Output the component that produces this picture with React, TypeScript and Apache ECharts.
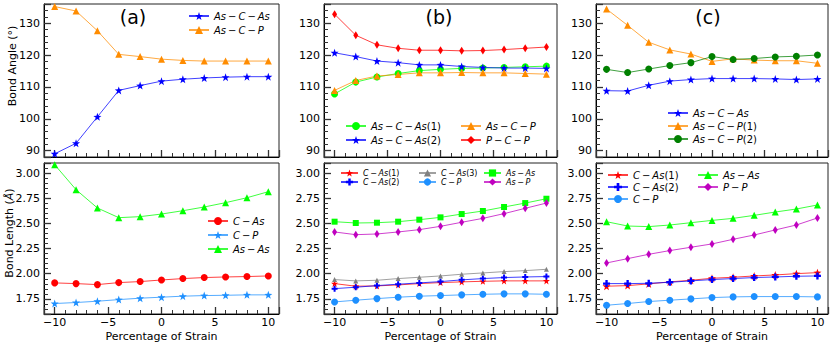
import React, { useEffect, useRef } from "react";
import * as echarts from "echarts";

const STRAIN = [-10, -8, -6, -4, -2, 0, 2, 4, 6, 8, 10];

// Panel (a) – bond angles
const A_ASCAS = [89.0, 92.3, 100.6, 108.9, 110.4, 111.8, 112.4, 112.8, 113.05, 113.2, 113.2];
const A_ASCP = [135.2, 133.8, 127.6, 120.2, 119.5, 118.7, 118.3, 118.1, 118.1, 118.1, 118.1];
// Panel (a) – bond lengths
const A_CAS = [1.909, 1.902, 1.892, 1.912, 1.922, 1.938, 1.952, 1.962, 1.968, 1.972, 1.978];
const A_CP = [1.704, 1.714, 1.727, 1.743, 1.757, 1.767, 1.777, 1.783, 1.786, 1.79, 1.79];
const A_ASAS = [3.083, 2.835, 2.653, 2.557, 2.567, 2.593, 2.626, 2.663, 2.706, 2.755, 2.815];

// Panel (b) – bond angles
const B_ASCAS1 = [107.8, 111.5, 113.1, 114.2, 115.1, 115.5, 115.8, 115.9, 116.1, 116.3, 116.5];
const B_ASCAS2 = [120.7, 119.5, 118.1, 117.6, 116.9, 116.9, 116.4, 116.1, 115.9, 115.9, 115.8];
const B_ASCP = [108.9, 112.0, 113.4, 113.9, 114.4, 114.4, 114.5, 114.4, 114.4, 114.2, 114.0];
const B_PCP = [132.8, 126.2, 123.2, 122.1, 121.5, 121.5, 121.3, 121.4, 121.7, 122.1, 122.5];
// Panel (b) – bond lengths
const B_CAS1 = [1.902, 1.876, 1.879, 1.889, 1.902, 1.912, 1.919, 1.925, 1.929, 1.929, 1.929];
const B_CAS2 = [1.852, 1.866, 1.882, 1.896, 1.909, 1.922, 1.939, 1.952, 1.962, 1.968, 1.972];
const B_CAS3 = [1.942, 1.929, 1.935, 1.952, 1.965, 1.978, 1.995, 2.008, 2.021, 2.031, 2.044];
const B_CP = [1.72, 1.737, 1.753, 1.767, 1.777, 1.783, 1.79, 1.796, 1.8, 1.8, 1.796];
const B_ASAS = [2.517, 2.504, 2.507, 2.517, 2.537, 2.56, 2.593, 2.623, 2.663, 2.702, 2.745];
const B_ASP = [2.415, 2.388, 2.395, 2.415, 2.438, 2.471, 2.511, 2.55, 2.597, 2.65, 2.702];

// Panel (c) – bond angles
const C_ASCAS = [108.8, 108.7, 110.5, 111.8, 112.3, 112.6, 112.6, 112.6, 112.5, 112.3, 112.5];
const C_ASCP1 = [134.4, 129.3, 124.0, 121.6, 120.3, 118.0, 118.8, 118.4, 118.2, 118.2, 117.4];
const C_ASCP2 = [115.5, 114.5, 115.6, 116.7, 117.6, 119.5, 118.6, 118.9, 119.4, 119.6, 120.0];
// Panel (c) – bond lengths
const C_CAS1 = [1.876, 1.882, 1.899, 1.919, 1.935, 1.955, 1.965, 1.978, 1.988, 2.001, 2.011];
const C_CAS2 = [1.902, 1.902, 1.905, 1.915, 1.929, 1.942, 1.952, 1.962, 1.968, 1.975, 1.978];
const C_CP = [1.687, 1.704, 1.724, 1.737, 1.75, 1.763, 1.77, 1.773, 1.773, 1.773, 1.77];
const C_ASAS = [2.517, 2.474, 2.468, 2.484, 2.507, 2.53, 2.55, 2.58, 2.613, 2.643, 2.683];
const C_PP = [2.107, 2.15, 2.193, 2.23, 2.263, 2.296, 2.342, 2.385, 2.435, 2.484, 2.554];

const PANEL_LABELS = ["(a)", "(b)", "(c)"];
const X_NAME = "Percentage of Strain";

const FONT = "DejaVu Sans";
const STAR = "path://M0,-10L2.35,-3.24L9.51,-3.09L3.8,1.24L5.88,8.09L0,4L-5.88,8.09L-3.8,1.24L-9.51,-3.09L-2.35,-3.24Z";
const PLUS = "path://M-1,-3L1,-3L1,-1L3,-1L3,1L1,1L1,3L-1,3L-1,1L-3,1L-3,-1L-1,-1Z";

const T = "\u2009\u2212\u2009";

type S = {
  id: string;
  label: string;
  grid: number;
  data: number[];
  color: string;
  symbol: string;
  size: number | number[];
};

const SERIES: S[] = [
  { id: "a1", label: `{i|As${T}C${T}As}`, grid: 0, data: A_ASCAS, color: "#0000ff", symbol: STAR, size: 8 },
  { id: "a2", label: `{i|As${T}C${T}P}`, grid: 0, data: A_ASCP, color: "#ff8c00", symbol: "triangle", size: 7 },
  { id: "a3", label: `{i|C${T}As}`, grid: 1, data: A_CAS, color: "#ff0000", symbol: "circle", size: 7 },
  { id: "a4", label: `{i|C${T}P}`, grid: 1, data: A_CP, color: "#1e90ff", symbol: STAR, size: 8 },
  { id: "a5", label: `{i|As${T}As}`, grid: 1, data: A_ASAS, color: "#00ff00", symbol: "triangle", size: 7 },

  { id: "b1", label: `{i|As${T}C${T}As}{n|(1)}`, grid: 2, data: B_ASCAS1, color: "#00ff00", symbol: "circle", size: 7 },
  { id: "b2", label: `{i|As${T}C${T}As}{n|(2)}`, grid: 2, data: B_ASCAS2, color: "#0000ff", symbol: STAR, size: 8 },
  { id: "b3", label: `{i|As${T}C${T}P}`, grid: 2, data: B_ASCP, color: "#ff8c00", symbol: "triangle", size: 7 },
  { id: "b4", label: `{i|P${T}C${T}P}`, grid: 2, data: B_PCP, color: "#ff0000", symbol: "diamond", size: [5, 8] },
  { id: "b5", label: `{s|C${T}As}{m|(1)}`, grid: 3, data: B_CAS1, color: "#ff0000", symbol: STAR, size: 7 },
  { id: "b6", label: `{s|C${T}As}{m|(2)}`, grid: 3, data: B_CAS2, color: "#0000ff", symbol: PLUS, size: 6 },
  { id: "b7", label: `{s|C${T}As}{m|(3)}`, grid: 3, data: B_CAS3, color: "#808080", symbol: "triangle", size: 5 },
  { id: "b8", label: `{s|C${T}P}`, grid: 3, data: B_CP, color: "#1e90ff", symbol: "circle", size: 7 },
  { id: "b9", label: `{s|As${T}As}`, grid: 3, data: B_ASAS, color: "#00ff00", symbol: "rect", size: 6 },
  { id: "b10", label: `{s|As${T}P}`, grid: 3, data: B_ASP, color: "#bf00bf", symbol: "diamond", size: [5, 8] },

  { id: "c1", label: `{i|As${T}C${T}As}`, grid: 4, data: C_ASCAS, color: "#0000ff", symbol: STAR, size: 8 },
  { id: "c2", label: `{i|As${T}C${T}P}{n|(1)}`, grid: 4, data: C_ASCP1, color: "#ff8c00", symbol: "triangle", size: 7 },
  { id: "c3", label: `{i|As${T}C${T}P}{n|(2)}`, grid: 4, data: C_ASCP2, color: "#008000", symbol: "circle", size: 7 },
  { id: "c4", label: `{i|C${T}As}{n|(1)}`, grid: 5, data: C_CAS1, color: "#ff0000", symbol: STAR, size: 8 },
  { id: "c5", label: `{i|C${T}As}{n|(2)}`, grid: 5, data: C_CAS2, color: "#0000ff", symbol: PLUS, size: 7 },
  { id: "c6", label: `{i|C${T}P}`, grid: 5, data: C_CP, color: "#1e90ff", symbol: "circle", size: 7 },
  { id: "c7", label: `{i|As${T}As}`, grid: 5, data: C_ASAS, color: "#00ff00", symbol: "triangle", size: 7 },
  { id: "c8", label: `{i|P${T}P}`, grid: 5, data: C_PP, color: "#bf00bf", symbol: "diamond", size: [5, 8] },
];

const LABEL_MAP: Record<string, string> = {};
SERIES.forEach((s) => (LABEL_MAP[s.id] = s.label));

const GRIDS = [
  { left: 44, top: 4, width: 235, height: 153 },
  { left: 44, top: 163, width: 235, height: 151 },
  { left: 324, top: 4, width: 233, height: 153 },
  { left: 324, top: 163, width: 233, height: 151 },
  { left: 596, top: 4, width: 232, height: 153 },
  { left: 596, top: 163, width: 232, height: 151 },
];
const PANEL_LABEL_X = [133, 439, 708];

const rich = (fs: number) => ({
  i: { fontStyle: "italic", fontFamily: FONT, fontSize: fs, color: "#000" },
  n: { fontStyle: "normal", fontFamily: FONT, fontSize: fs, color: "#000" },
  s: { fontStyle: "italic", fontFamily: FONT, fontSize: fs - 1, color: "#000" },
  m: { fontStyle: "normal", fontFamily: FONT, fontSize: fs - 1, color: "#000" },
});

function legend(data: string[], left: number, top: number, gap: number, fs: number, w = 20, h = 10) {
  return {
    data,
    left,
    top,
    orient: "vertical",
    itemGap: gap,
    itemWidth: w,
    itemHeight: h,
    padding: 0,
    selectedMode: false,
    formatter: (name: string) => LABEL_MAP[name],
    textStyle: { fontFamily: FONT, fontSize: fs, rich: rich(fs), padding: [0, 0, 0, 0] },
  };
}

export default function App() {
  const ref = useRef<HTMLDivElement>(null);
  useEffect(() => {
    document.body.style.margin = "0";
    const chart = echarts.init(ref.current!, null, { renderer: "svg" });
    const tickStyle = { color: "#333", width: 1.3 };
    const xAxes = GRIDS.map((_, gi) => ({
      type: "value",
      gridIndex: gi,
      min: -11,
      max: 11,
      minInterval: 5,
      maxInterval: 5,
      axisLine: { show: true, onZero: false, lineStyle: { color: "#000", width: 1 } },
      axisTick: { show: true, inside: true, length: 7, lineStyle: tickStyle },
      minorTick: { show: true, splitNumber: 5, length: 4, lineStyle: { color: "#333", width: 1 } },
      splitLine: { show: false },
      axisLabel: {
        show: gi % 2 === 1,
        showMinLabel: false,
        showMaxLabel: false,
        fontFamily: FONT,
        fontSize: 11,
        color: "#000",
        margin: 3,
        formatter: (v: number) => (v < 0 ? "\u2212" + Math.abs(v) : String(v)),
      },
    }));
    const yAxes = GRIDS.map((_, gi) => {
      const top = gi % 2 === 0;
      return {
        type: "value",
        gridIndex: gi,
        min: top ? 88 : 1.6,
        max: top ? 136 : 3.1,
        minInterval: top ? 10 : 0.25,
        maxInterval: top ? 10 : 0.25,
        axisLine: { show: true, onZero: false, lineStyle: { color: "#000", width: 1 } },
        axisTick: { show: true, inside: true, length: 7, lineStyle: tickStyle },
        minorTick: { show: true, splitNumber: 5, length: 4, lineStyle: { color: "#333", width: 1 } },
        splitLine: { show: false },
        axisLabel: {
          showMinLabel: false,
          showMaxLabel: false,
          fontFamily: FONT,
          fontSize: 11,
          color: "#000",
          margin: 4,
          formatter: (v: number) => (top ? String(v) : v.toFixed(2)),
        },
      };
    });
    const series = SERIES.map((s) => ({
      type: "line",
      name: s.id,
      xAxisIndex: s.grid,
      yAxisIndex: s.grid,
      data: STRAIN.map((x, i) => [x, s.data[i]]),
      symbol: s.symbol,
      symbolSize: s.size,
      showSymbol: true,
      itemStyle: { color: s.color, opacity: 1 },
      lineStyle: { color: s.color, width: 1, opacity: 0.75 },
      emphasis: { disabled: true },
    }));

    const graphics: any[] = [];
    PANEL_LABELS.forEach((t, k) => {
      graphics.push({
        type: "text",
        x: PANEL_LABEL_X[k],
        y: 17,
        style: { text: t, font: `19px '${FONT}'`, fill: "#000", align: "center", verticalAlign: "middle" },
      });
      const gb = GRIDS[k * 2 + 1];
      graphics.push({
        type: "text",
        x: gb.left + gb.width / 2,
        y: 336,
        style: { text: X_NAME, font: `11px '${FONT}'`, fill: "#000", align: "center", verticalAlign: "middle" },
      });
    });
    graphics.push({
      type: "text",
      x: 12,
      y: 66,
      rotation: Math.PI / 2,
      style: { text: "Bond Angle (\u00b0)", font: `11px '${FONT}'`, fill: "#000", align: "center", verticalAlign: "middle" },
    });
    graphics.push({
      type: "text",
      x: 9,
      y: 233,
      rotation: Math.PI / 2,
      style: {
        text: "Bond Length ({i|\u00c5})",
        font: `11px '${FONT}'`,
        fill: "#000",
        align: "center",
        verticalAlign: "middle",
        rich: { i: { fontStyle: "italic", fontFamily: FONT, fontSize: 11, fill: "#000" } },
      },
    });

    chart.setOption({
      animation: false,
      backgroundColor: "#fff",
      grid: GRIDS.map((g) => ({ ...g, show: true, borderColor: "#222", borderWidth: 1, backgroundColor: "transparent", containLabel: false })),
      xAxis: xAxes,
      yAxis: yAxes,
      legend: [
        legend(["a1", "a2"], 188, 11, 4, 10),
        legend(["a3", "a4", "a5"], 207, 216, 4, 10),
        legend(["b1", "b2"], 345, 121, 4, 10),
        legend(["b3", "b4"], 460, 121, 4, 10),
        legend(["b5", "b6"], 340, 169, 1, 9, 17, 9),
        legend(["b7", "b8"], 418, 169, 1, 9, 17, 9),
        legend(["b9", "b10"], 483, 169, 1, 9, 17, 9),
        legend(["c1", "c2", "c3"], 667, 108, 3, 10),
        legend(["c4", "c5", "c6"], 607, 170, 2, 10),
        legend(["c7", "c8"], 697, 170, 2, 10),
      ],
      series,
      graphic: graphics,
    });
    return () => chart.dispose();
  }, []);
  return <div ref={ref} style={{ position: "absolute", left: 0, top: 0, width: 830, height: 345 }} />;
}
